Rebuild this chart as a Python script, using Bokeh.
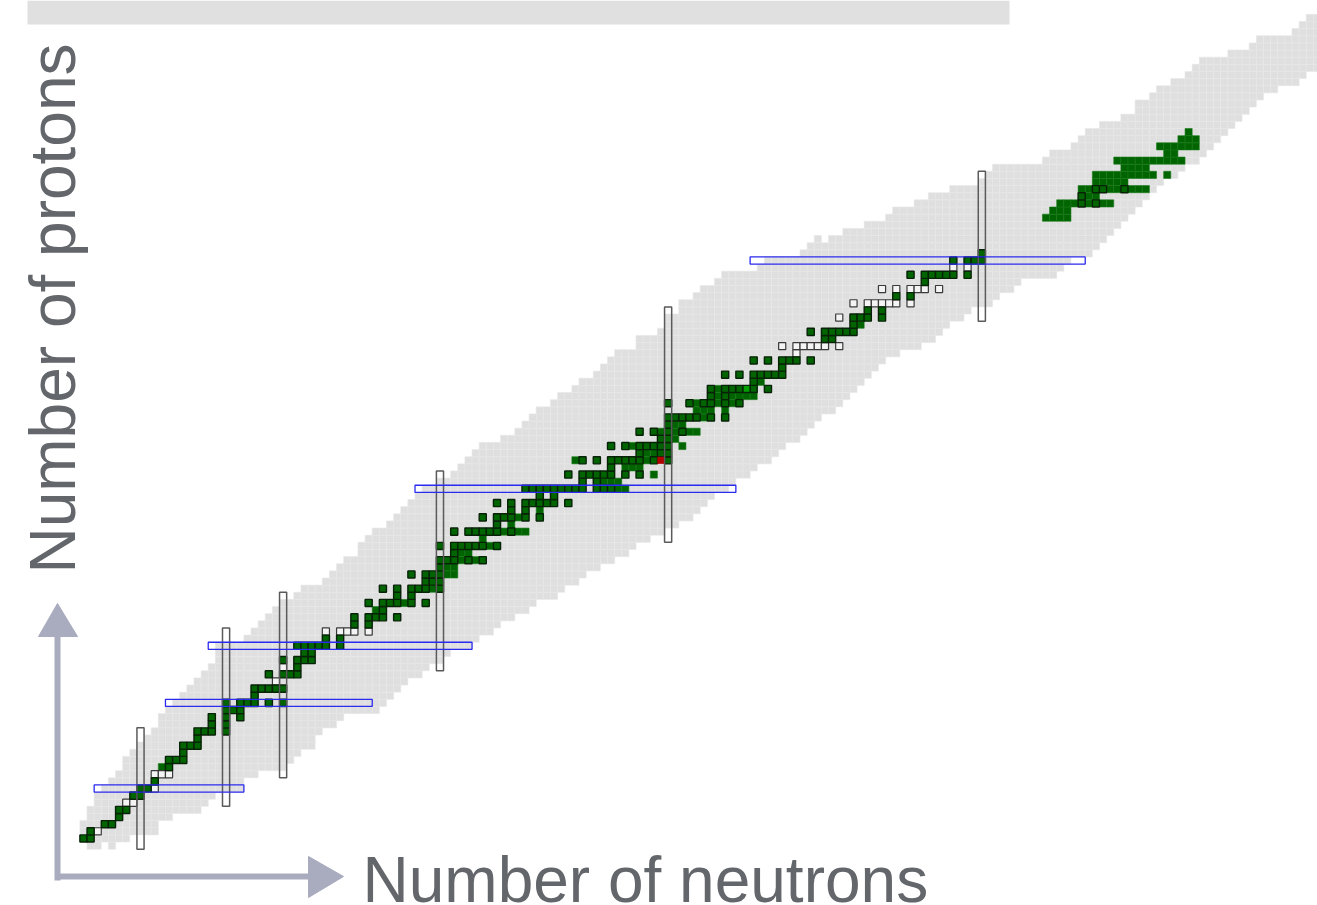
from math import pi
from bokeh.plotting import figure
from bokeh.models import Range1d
from bokeh.core.properties import value
from bokeh.embed import file_html
from bokeh.resources import INLINE

# ---- chart of nuclides, read row by row (Z = protons, N = neutrons) ----
gray_z = list(range(1, 117))
gray_lo = [0,0,0,1,1,2,2,3,4,5,6,6,7,8,9,10,11,11,12,13,14,15,16,17,18,19,19,19,23,24,25,26,27,28,30,31,34,35,36,37,39,39,40,41,
           43,44,45,46,47,48,50,52,53,54,55,56,59,61,62,63,64,66,67,69,70,72,73,74,75,78,78,81,82,82,84,84,86,87,89,90,95,96,101,102,
           105,107,110,113,114,117,119,122,126,127,128,135,136,139,140,141,143,146,148,148,150,151,153,155,156,157,161,164,165,170,171,172]
gray_hi = [6,10,10,12,16,17,18,22,22,24,28,29,30,32,32,33,35,36,41,42,43,44,45,47,48,50,51,54,55,57,58,60,62,63,66,67,69,70,72,74,76,77,79,81,
           83,85,86,87,88,90,91,93,94,96,97,98,100,101,102,103,105,106,107,108,109,110,111,112,114,117,119,120,121,123,124,127,128,130,131,136,137,138,141,142,
           143,144,145,146,147,148,149,150,151,153,154,156,157,158,159,160,161,162,163,164,165,167,170,171,175,175,175,175,175,175,175,175]
gray_extra_n = [1, 2, 4, 103]
gray_extra_z = [0, 0, 0, 85]

dark_rows = {
 1:[0,1],2:[1],3:[3,4],4:[5],5:[5,6],7:[7,8],8:[8,9],9:[10],11:[12],12:[12,13,14],13:[14],14:[14,15,16],15:[16],
 16:[16,17,18,20],17:[18,20],18:[18,20,22],19:[20,21,22],20:[20,22,23,24,26,28],21:[24],22:[24,25,26,27,28],
 24:[26,28,29,30],25:[30],26:[28,30,31,32],27:[31,32],28:[30,31,32,33,34,36],29:[34,36],31:[38,40],32:[38,40,41,42,44],
 33:[42],34:[40,42,43,44,46,48],35:[44,46],36:[42,44,46,47,48,50],37:[48,49,50],38:[46,48,49,50],39:[50],
 40:[50,51,52,54,56],41:[52],42:[50,52,53,54,55,56,58],44:[52,54,55,56,57,58,60],45:[58],46:[56,58,59,60,62,64],
 47:[60,62],48:[58,60,62,63,64,65,66,68],49:[64,66],50:[62,63,64,65,66,67,68,69,70,72,73,74],51:[70,72],
 52:[68,70,71,72,73,74,76,78],53:[74],54:[70,72,74,75,76,77,78,80,82],55:[78,81,82],56:[74,76,78,79,80,81,82],
 57:[81,82],58:[78,80,82,84],59:[82],60:[82,83,84,85,86,88,90],62:[82,85,87,88,90,92],63:[88,90],64:[88,90,91,92,94,96],
 65:[94],66:[90,92,94,95,96,97,98],67:[98],68:[94,96,98,99,100,102],71:[104,105],72:[102,104,105,106,107,108],73:[108],
 74:[108,109,110,112],75:[110,112],77:[114,116],79:[118],80:[116,118,119,120,121,122,124],82:[122,124,125,126],83:[126],
 90:[140,142],91:[140],92:[142,143,146],
}
light_rows = {
 11:[11],33:[41],34:[45],36:[49],38:[51,52],39:[51,52],40:[53,55],41:[53,54],42:[57],43:[56],44:[59,61,62],45:[60],46:[61],
 47:[64],50:[75,76],51:[73,74,75],52:[80],53:[76,77,78],54:[69,79],55:[79,80],56:[77,84],57:[83],58:[81,83,85,86],59:[83,84],
 60:[87],61:[86,87,88,90],62:[86,89,91],63:[89,91,92,93,94],64:[89],65:[95],73:[109],
 88:[135,136,137,138],89:[136,137,138],90:[137,138,139,141,143,144],91:[141,142],92:[140,141,144,145,147,148,149],
 93:[142,143,144,145,146],94:[142,143,144,145,146,147,148,149,150,152],95:[146,147,148,149],
 96:[145,146,147,148,149,150,151,152,153,154],97:[152,153],98:[151,152,153,154,155,156],99:[154,155,156],100:[155],
}
open_rows = {
 2:[2],6:[6,7],8:[10],10:[10,11,12],23:[27],25:[28],30:[34,36,37,38,40],69:[100],70:[98,100,101,102,103,104,106],
 74:[106],76:[108,110,111,112,113,114,116],78:[112,114,116,117,118,120],81:[122,124],
}
red_n, red_z = [81], [54]
bright_n, bright_z = [93], [64]

# magic numbers: closed shells
magic_n = [8, 20, 28, 50, 82, 126]
magic_n_zlo = [0, 6, 10, 25, 43, 74]
magic_n_zhi = [16, 30, 35, 52, 75, 94]
magic_z = [8, 20, 28, 50, 82]
magic_z_nlo = [2, 12, 18, 47, 94]
magic_z_nhi = [22, 40, 54, 91, 140]

x_label = "Number of neutrons"
y_label = "Number of protons"

# ---- page geometry: pixel <-> (N, Z) ----
CELL_X, CELL_Y = 7.13, 7.135
def fx(px): return 8 + (px - 140) / CELL_X
def fy(py): return 8 + (788 - py) / CELL_Y

p = figure(width=1317, height=905, output_backend="svg", toolbar_location=None,
           x_range=Range1d(fx(0), fx(1317)), y_range=Range1d(fy(905), fy(0)),
           min_border=0, outline_line_color=None)
p.axis.visible = False
p.grid.visible = False
p.background_fill_color = "white"
p.border_fill_color = "white"

def expand(rows):
    ns, zs = [], []
    for z, lst in rows.items():
        ns += lst
        zs += [z] * len(lst)
    return ns, zs

# band of known nuclei
gx, gy = list(gray_extra_n), list(gray_extra_z)
for z, lo, hi in zip(gray_z, gray_lo, gray_hi):
    gx += list(range(lo, hi + 1))
    gy += [z] * (hi - lo + 1)
p.rect(gx, gy, width=1, height=1, fill_color="#dfdfdf", line_color="#e7e7e7", line_width=0.6)

# top bar (grey strip)
p.quad(left=[fx(27)], right=[fx(1009)], top=[fy(0)], bottom=[fy(24)], fill_color="#e0e0e0", line_color=None)

ln, lz = expand(light_rows)
p.rect(ln, lz, width=1, height=1, fill_color="#006400", line_color="#1a7a1a", line_width=0.6)
on, oz = expand(open_rows)
p.rect(on, oz, width=1, height=1, fill_color="#f4f4f4", line_color="#3a3a3a", line_width=1.2)
dn, dz = expand(dark_rows)
p.rect(dn, dz, width=1, height=1, fill_color="#006400", line_color="#082208", line_width=1.4)
p.rect(red_n, red_z, width=1, height=1, fill_color="#b00000", line_color=None)
p.rect(bright_n, bright_z, width=1, height=1, fill_color="#00a000", line_color="#082208", line_width=1.4)

# closed-shell frames
p.quad(left=[n - 0.5 for n in magic_n], right=[n + 0.5 for n in magic_n],
       bottom=[z - 0.5 for z in magic_n_zlo], top=[z + 0.5 for z in magic_n_zhi],
       fill_color=None, line_color="#5a5a5a", line_width=1.5)
p.quad(left=[n - 0.5 for n in magic_z_nlo], right=[n + 0.5 for n in magic_z_nhi],
       bottom=[z - 0.5 for z in magic_z], top=[z + 0.5 for z in magic_z],
       fill_color=None, line_color="#2a2af0", line_width=1.3)

# axis arrows
ARROW = "#a9abbf"
p.quad(left=[fx(54)], right=[fx(60)], top=[fy(630)], bottom=[fy(880)], fill_color=ARROW, line_color=None)
p.quad(left=[fx(55)], right=[fx(312)], top=[fy(873)], bottom=[fy(879)], fill_color=ARROW, line_color=None)
p.patch([fx(57), fx(38), fx(77)], [fy(603), fy(636), fy(636)], fill_color=ARROW, line_color=ARROW, line_width=1, line_join="round")
p.patch([fx(343), fx(308), fx(308)], [fy(876), fy(856), fy(897)], fill_color=ARROW, line_color=ARROW, line_width=1, line_join="round")

# axis titles
p.text([fx(362)], [fy(879)], text=[x_label], text_font=value("Liberation Sans"), text_font_size=value("64px"),
       text_color="#63666a", text_baseline="alphabetic", text_align="left")
p.text([fx(52)], [fy(573)], text=[y_label], angle=pi / 2, text_font=value("Liberation Sans"), text_font_size=value("64px"),
       text_color="#63666a", text_baseline="alphabetic", text_align="left")

open("out.html", "w").write(file_html(p, INLINE))
